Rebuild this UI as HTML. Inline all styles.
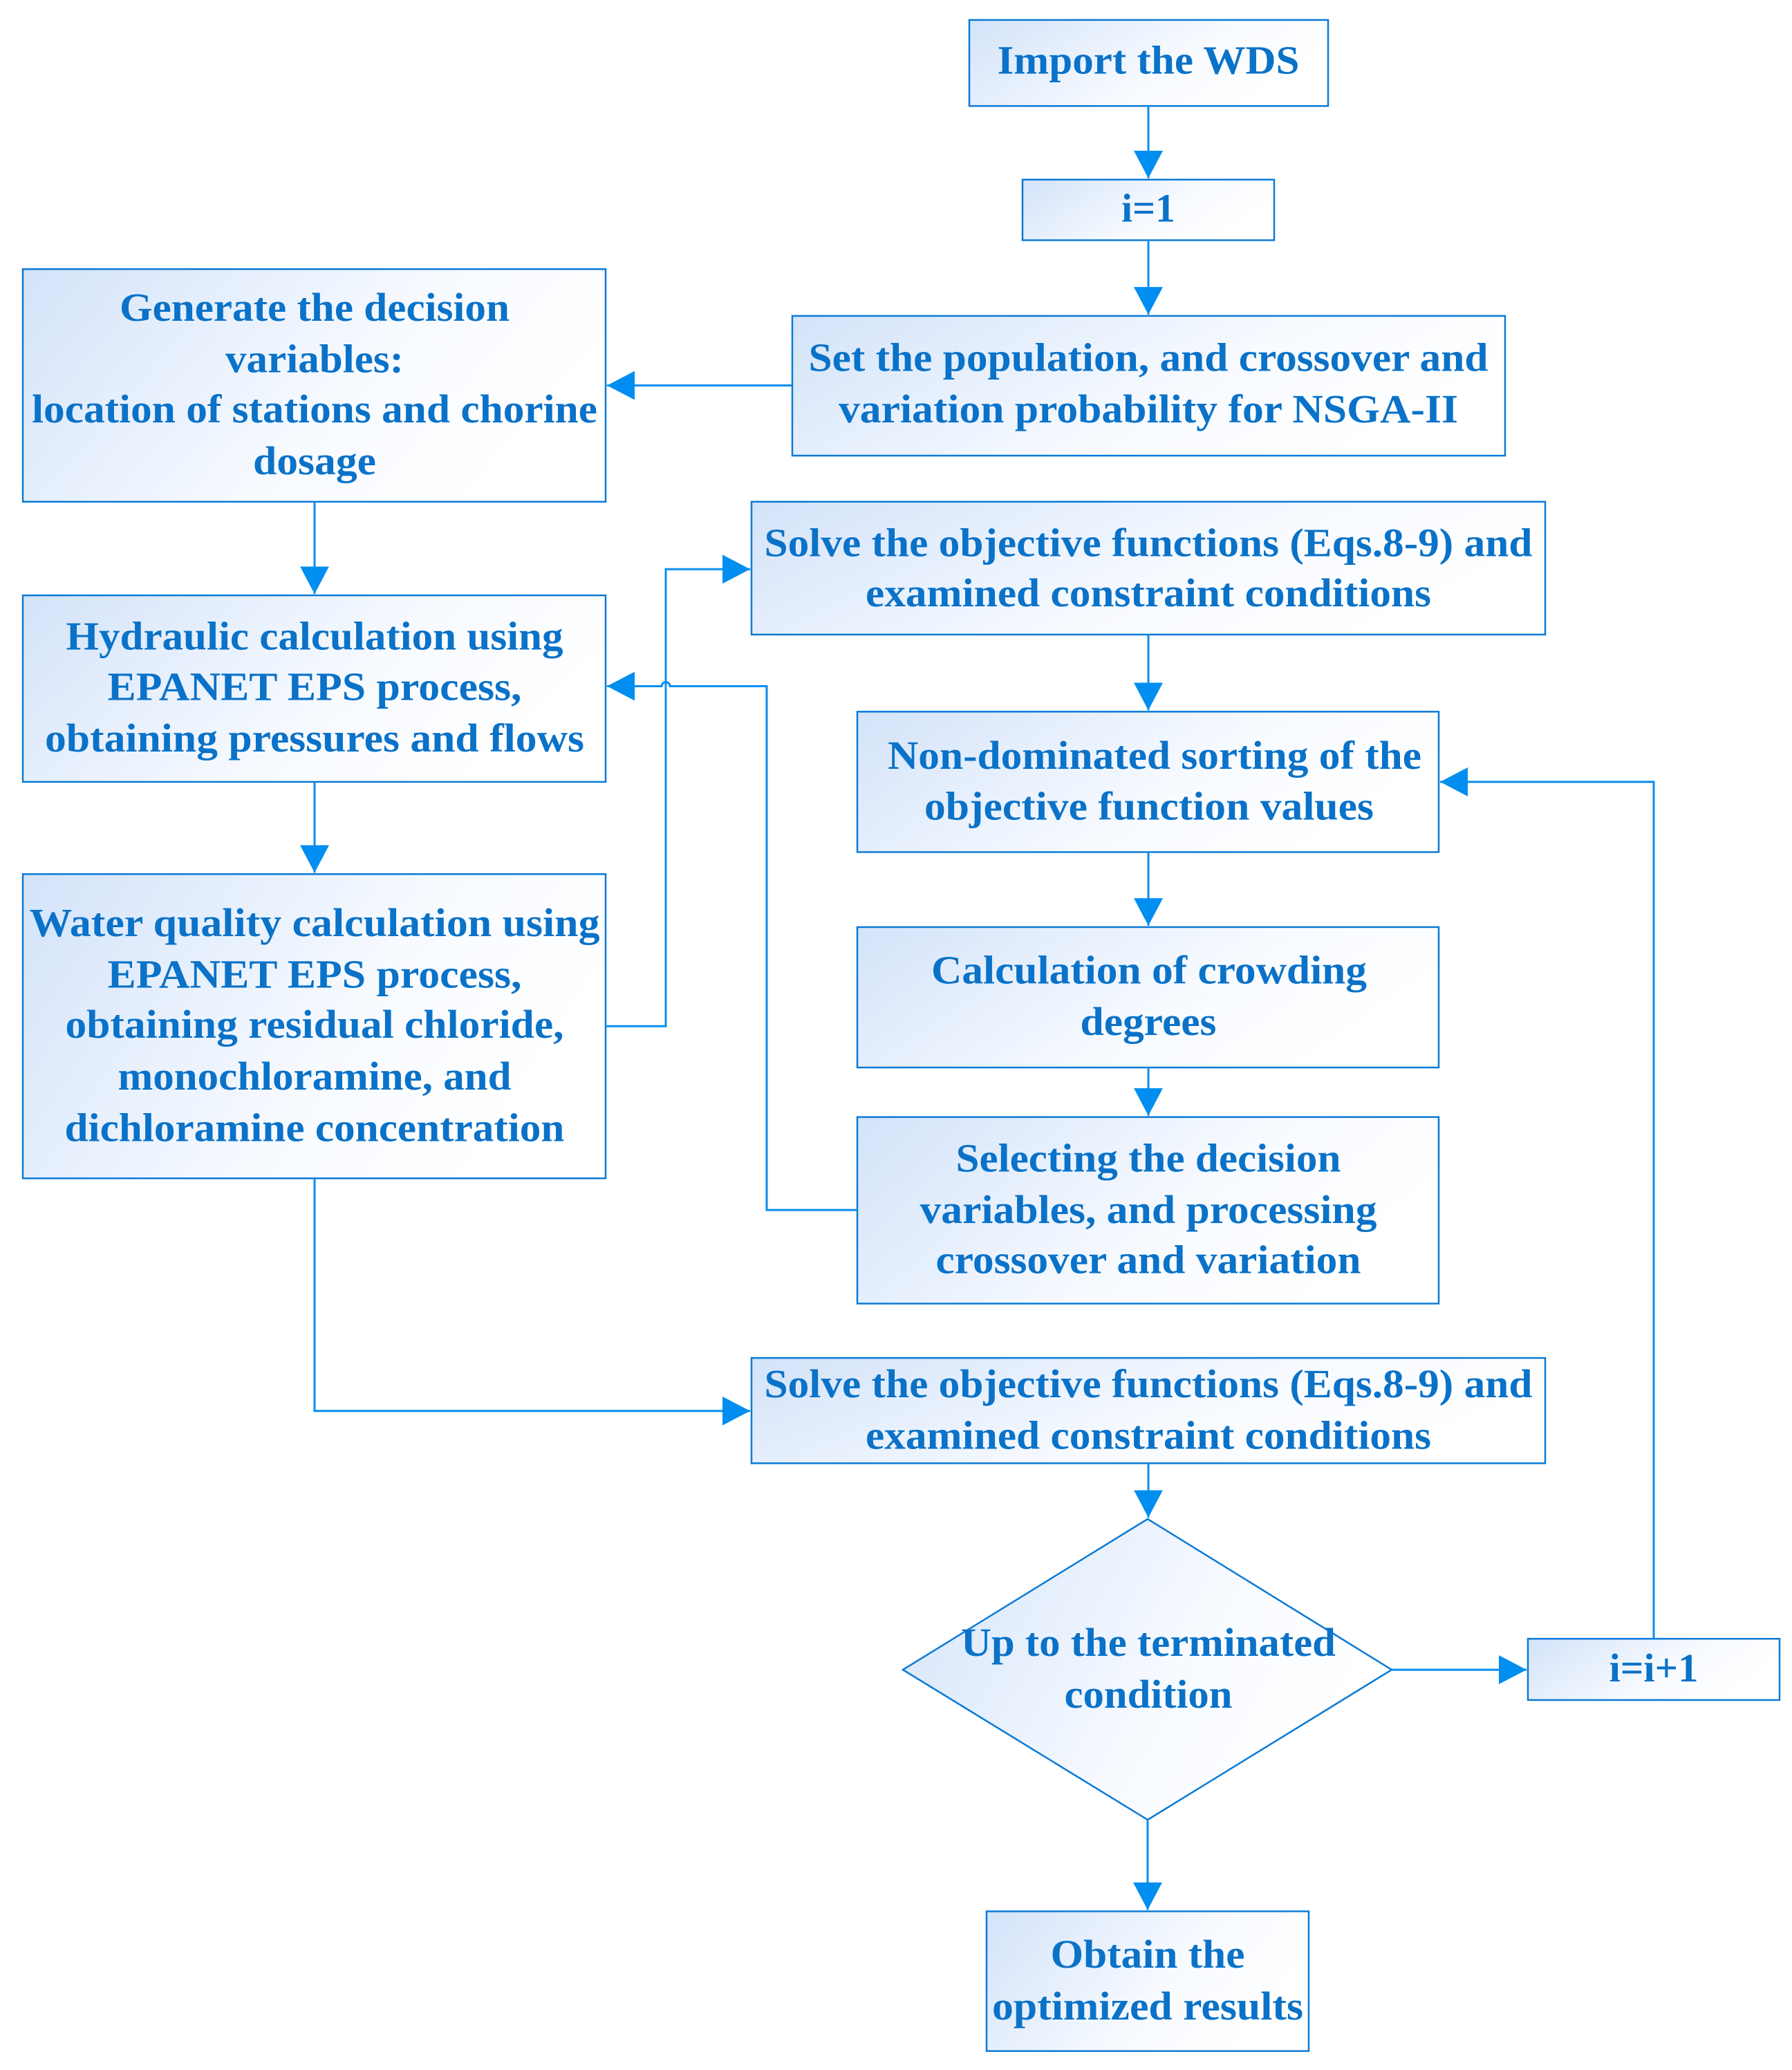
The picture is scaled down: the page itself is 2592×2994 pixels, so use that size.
<!DOCTYPE html>
<html><head><meta charset="utf-8"><style>
html,body{margin:0;padding:0;background:#fff}
svg{display:block}
text{font-family:"Liberation Serif",serif;font-weight:bold;font-size:58px;fill:#0a72c8;text-anchor:middle}
.b{stroke:#0a7ad6;stroke-width:2.5;fill:url(#g)}
.l{stroke:#0a8ef0;stroke-width:3;fill:none}
</style></head><body>
<svg width="2592" height="2994" viewBox="0 0 2592 2994" xmlns="http://www.w3.org/2000/svg">
<defs>
<linearGradient id="g" x1="0" y1="0" x2="1" y2="0.35">
<stop offset="0" stop-color="#d3e3f9"/><stop offset="0.65" stop-color="#f7faff"/><stop offset="1" stop-color="#ffffff"/>
</linearGradient>
<marker id="a" markerWidth="40" markerHeight="42" refX="40" refY="21" orient="auto" markerUnits="userSpaceOnUse">
<path d="M0,0 L40,21 L0,42 Z" fill="#008ef0"/>
</marker>
</defs>
<g transform="scale(1,0.9955)">
<rect class="b" x="1402" y="29" width="519" height="125"/>
<rect class="b" x="1479" y="261" width="364" height="88"/>
<rect class="b" x="1146" y="459" width="1031" height="203"/>
<rect class="b" x="33" y="391" width="843" height="338"/>
<rect class="b" x="33" y="865" width="843" height="271"/>
<rect class="b" x="33" y="1270" width="843" height="442"/>
<rect class="b" x="1087" y="729" width="1148" height="193"/>
<rect class="b" x="1240" y="1034" width="841" height="204"/>
<rect class="b" x="1240" y="1347" width="841" height="204"/>
<rect class="b" x="1240" y="1623" width="841" height="271"/>
<rect class="b" x="1087" y="1973" width="1148" height="153"/>
<polygon class="b" points="1660,2207 2013,2426 1660,2644 1306,2426"/>
<rect class="b" x="2210" y="2381" width="364" height="89"/>
<rect class="b" x="1427" y="2777" width="466" height="203"/>
<path class="l" d="M1661,154 V259" marker-end="url(#a)"/>
<path class="l" d="M1661,349 V457" marker-end="url(#a)"/>
<path class="l" d="M1146,560 H878" marker-end="url(#a)"/>
<path class="l" d="M455,729 V863" marker-end="url(#a)"/>
<path class="l" d="M455,1136 V1268" marker-end="url(#a)"/>
<path class="l" d="M876,1491 H963 V827 H1085" marker-end="url(#a)"/>
<path class="l" d="M1240,1758 H1109 V997 H969 A6,6 0 0 0 957,997 H878" marker-end="url(#a)"/>
<path class="l" d="M1661,922 V1032" marker-end="url(#a)"/>
<path class="l" d="M1661,1238 V1345" marker-end="url(#a)"/>
<path class="l" d="M1661,1551 V1621" marker-end="url(#a)"/>
<path class="l" d="M455,1712 V2050 H1085" marker-end="url(#a)"/>
<path class="l" d="M1661,2126 V2205" marker-end="url(#a)"/>
<path class="l" d="M2013,2426 H2208" marker-end="url(#a)"/>
<path class="l" d="M2392,2381 V1136 H2083" marker-end="url(#a)"/>
<path class="l" d="M1660,2644 V2775" marker-end="url(#a)"/>
<text x="1661" y="107" textLength="437" lengthAdjust="spacingAndGlyphs">Import the WDS</text>
<text x="1661" y="322" textLength="78" lengthAdjust="spacingAndGlyphs">i=1</text>
<text x="1661" y="539" textLength="983" lengthAdjust="spacingAndGlyphs">Set the population, and crossover and</text>
<text x="1661" y="614" textLength="896" lengthAdjust="spacingAndGlyphs">variation probability for NSGA-II</text>
<text x="455" y="466" textLength="564" lengthAdjust="spacingAndGlyphs">Generate the decision</text>
<text x="455" y="541" textLength="258" lengthAdjust="spacingAndGlyphs">variables:</text>
<text x="455" y="614" textLength="818" lengthAdjust="spacingAndGlyphs">location of stations and chorine</text>
<text x="455" y="689" textLength="178" lengthAdjust="spacingAndGlyphs">dosage</text>
<text x="455" y="944" textLength="719" lengthAdjust="spacingAndGlyphs">Hydraulic calculation using</text>
<text x="455" y="1017" textLength="599" lengthAdjust="spacingAndGlyphs">EPANET EPS process,</text>
<text x="455" y="1092" textLength="780" lengthAdjust="spacingAndGlyphs">obtaining pressures and flows</text>
<text x="455" y="1360" textLength="825" lengthAdjust="spacingAndGlyphs">Water quality calculation using</text>
<text x="455" y="1435" textLength="599" lengthAdjust="spacingAndGlyphs">EPANET EPS process,</text>
<text x="455" y="1508" textLength="721" lengthAdjust="spacingAndGlyphs">obtaining residual chloride,</text>
<text x="455" y="1583" textLength="569" lengthAdjust="spacingAndGlyphs">monochloramine, and</text>
<text x="455" y="1658" textLength="723" lengthAdjust="spacingAndGlyphs">dichloramine concentration</text>
<text x="1661" y="808" textLength="1111" lengthAdjust="spacingAndGlyphs">Solve the objective functions (Eqs.8-9) and</text>
<text x="1661" y="881" textLength="818" lengthAdjust="spacingAndGlyphs">examined constraint conditions</text>
<text x="1670" y="1117" textLength="772" lengthAdjust="spacingAndGlyphs">Non-dominated sorting of the</text>
<text x="1662" y="1191" textLength="650" lengthAdjust="spacingAndGlyphs">objective function values</text>
<text x="1662" y="1429" textLength="630" lengthAdjust="spacingAndGlyphs">Calculation of crowding</text>
<text x="1661" y="1504" textLength="197" lengthAdjust="spacingAndGlyphs">degrees</text>
<text x="1661" y="1702" textLength="557" lengthAdjust="spacingAndGlyphs">Selecting the decision</text>
<text x="1661" y="1777" textLength="661" lengthAdjust="spacingAndGlyphs">variables, and processing</text>
<text x="1661" y="1850" textLength="615" lengthAdjust="spacingAndGlyphs">crossover and variation</text>
<text x="1661" y="2030" textLength="1111" lengthAdjust="spacingAndGlyphs">Solve the objective functions (Eqs.8-9) and</text>
<text x="1661" y="2105" textLength="818" lengthAdjust="spacingAndGlyphs">examined constraint conditions</text>
<text x="1661" y="2406" textLength="542" lengthAdjust="spacingAndGlyphs">Up to the terminated</text>
<text x="1661" y="2481" textLength="243" lengthAdjust="spacingAndGlyphs">condition</text>
<text x="2392" y="2443" textLength="129" lengthAdjust="spacingAndGlyphs">i=i+1</text>
<text x="1660" y="2859" textLength="281" lengthAdjust="spacingAndGlyphs">Obtain the</text>
<text x="1660" y="2934" textLength="450" lengthAdjust="spacingAndGlyphs">optimized results</text>
</g>
</svg>
</body></html>
